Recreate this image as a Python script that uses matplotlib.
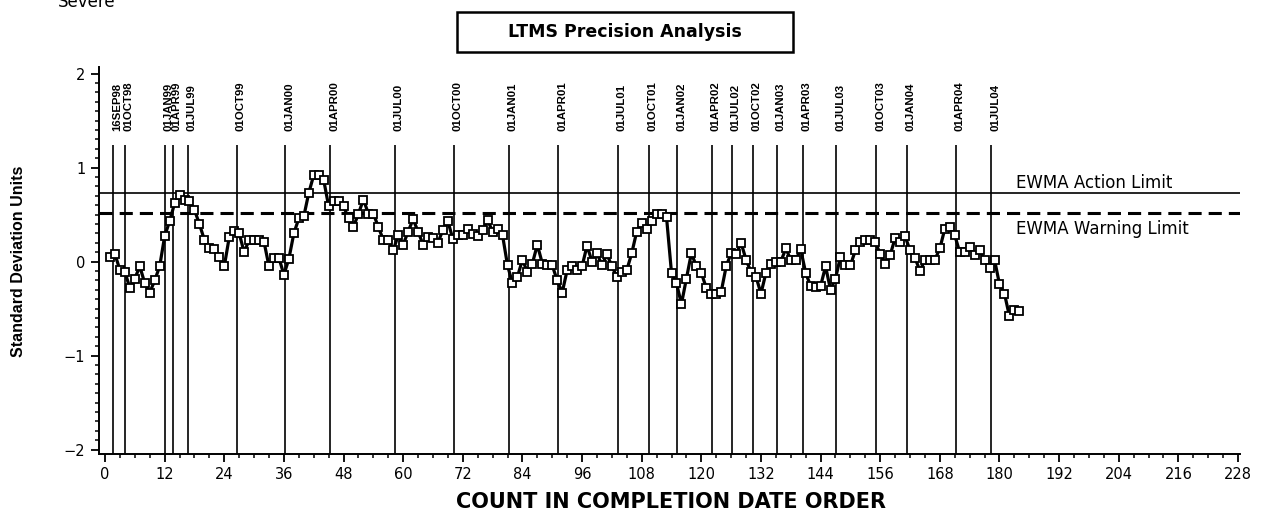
import matplotlib
matplotlib.use('Agg')
import matplotlib.pyplot as plt
import numpy as np
from matplotlib.patches import Rectangle
from matplotlib.ticker import MultipleLocator

# ---- data ----
ewma = [
    .05, .08, -.09, -.11, -.28, -.18, -.05, -.23, -.33, -.20,
    -.05, .27, .43, .62, .71, .66, .64, .55, .40, .23,
    .14, .13, .05, -.05, .26, .33, .30, .10, .23, .23,
    .23, .21, -.05, .04, .04, -.14, .03, .30, .46, .48,
    .73, .92, .92, .87, .59, .64, .64, .59, .46, .37,
    .51, .66, .51, .51, .37, .23, .23, .12, .28, .18,
    .32, .45, .32, .18, .26, .25, .20,
    .34, .43, .24, .28, .28, .35, .29, .27, .34, .44,
    .32, .35, .28, -.04, -.23, -.16, .02, -.11, -.02, .18,
    -.02, -.04, -.04, -.20, -.33, -.09, -.05, -.09, -.05, .17,
    .00, .09, -.04, .08, -.05, -.16, -.11, -.09, .09, .32,
    .41, .35, .43, .51, .51, .47,
    -.12, -.23, -.45, -.18, .09, -.05, -.12, -.28, -.34, -.34,
    -.32, -.05, .09, .08, .20, .02, -.11, -.16, -.34, -.12,
    -.02, .00, .00,
    .14, .02, .02, .13, -.12, -.26, -.27, -.26, -.05, -.30,
    -.18, .05, -.04, -.04, .12, .21, .23, .23, .21, .08,
    -.02, .07, .25, .21, .27, .12, .04, -.10, .02, .02,
    .02, .14, .35, .37, .28, .10, .10, .16, .07, .12,
    .02, -.07, .02, -.24, -.34, -.58, -.51, -.52,
]
count = np.arange(1, len(ewma) + 1)

date_labels = ['16SEP98', '01OCT98', '01JAN99', '01APR99', '01JUL99', '01OCT99',
               '01JAN00', '01APR00', '01JUL00', '01OCT00', '01JAN01', '01APR01',
               '01JUL01', '01OCT01', '01JAN02', '01APR02', '01JUL02', '01OCT02',
               '01JAN03', '01APR03', '01JUL03', '01OCT03', '01JAN04', '01APR04',
               '01JUL04']
date_counts = [1.6, 4.0, 12.0, 13.6, 16.7, 26.5, 36.3, 45.3, 58.3, 70.2, 81.3, 91.2,
               103.2, 109.4, 115.2, 122.1, 126.1, 130.3, 135.2, 140.4, 147.2, 155.2,
               161.3, 171.2, 178.3]

action_limit = 0.73
warning_limit = 0.52

W, H = 1276, 513
fig = plt.figure(figsize=(W / 100, H / 100), dpi=100)
fig.patch.set_facecolor('white')

ax_l, ax_r, ax_t, ax_b = 98.5, 1240, 67, 454
ax = fig.add_axes([ax_l / W, 1 - ax_b / H, (ax_r - ax_l) / W, (ax_b - ax_t) / H])
ax.set_xlim(-1.31, 228.4)
ax.set_ylim(-2.046, 2.07)

for s in ['top', 'right']:
    ax.spines[s].set_visible(False)
for s in ['left', 'bottom']:
    ax.spines[s].set_linewidth(1.4)

ax.xaxis.set_major_locator(MultipleLocator(12))
ax.xaxis.set_minor_locator(MultipleLocator(3))
ax.yaxis.set_major_locator(MultipleLocator(1))
ax.yaxis.set_minor_locator(MultipleLocator(0.1))
ax.tick_params(which='major', direction='out', length=5.5, width=1.3, pad=4,
               labelsize=10.5)
ax.tick_params(which='minor', direction='out', length=3, width=1.1)
for lab in ax.get_xticklabels() + ax.get_yticklabels():
    lab.set_family('DejaVu Sans')

# vertical date lines and labels
ax.vlines(date_counts, -2.046, 1.24, color='black', lw=1.2, zorder=1)
for c, lab in zip(date_counts, date_labels):
    ax.text(c + 0.8, 1.39, lab, rotation=90, ha='center', va='bottom',
            fontsize=8.2, fontweight='bold',
            family=['Liberation Sans Narrow', 'Liberation Sans'], color='black')

# limits
ax.axhline(action_limit, color='black', lw=1.2, zorder=1)
ax.axhline(warning_limit, color='black', lw=2.2, linestyle=(0, (4.3, 2.3)), zorder=1)
ax.text(183.3, 0.84, 'EWMA Action Limit', ha='left', va='center', fontsize=12,
        family='DejaVu Sans')
ax.text(183.3, 0.346, 'EWMA Warning Limit', ha='left', va='center', fontsize=12,
        family='DejaVu Sans')

# series
ax.plot(count, ewma, color='black', lw=2.3, marker='s', ms=6, mfc='white',
        mec='black', mew=1.3, zorder=3)

# axis labels
fig.text(671 / W, 1 - 502 / H, 'COUNT IN COMPLETION DATE ORDER', ha='center',
         va='center', fontsize=15, fontweight='bold', family='DejaVu Sans')
fig.text(19 / W, 1 - 261 / H, 'Standard Deviation Units', rotation=90, ha='center',
         va='center', fontsize=11.5, fontweight='bold',
         family=['Liberation Sans Narrow', 'Liberation Sans'])

# title box
fig.patches.append(Rectangle((457 / W, 1 - 52 / H), 336 / W, 40 / H,
                             transform=fig.transFigure, fill=False, lw=1.8,
                             edgecolor='black'))
fig.text(625 / W, 1 - 32 / H, 'LTMS Precision Analysis', ha='center', va='center',
         fontsize=12.5, fontweight='bold', family='DejaVu Sans')

# partially visible top-left label
fig.text(87 / W, 1 - 7 / H, 'Severe', ha='center', va='baseline', fontsize=12,
         family='DejaVu Sans')

fig.savefig('out.png', dpi=100)
